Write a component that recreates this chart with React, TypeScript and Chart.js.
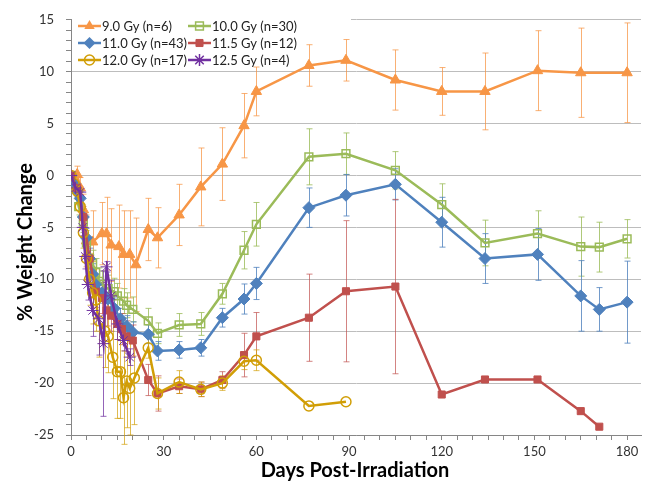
import React, { useEffect, useRef } from 'react';
import { Chart, registerables } from 'chart.js';

Chart.register(...registerables);

const FONT = 'Lato, "Open Sans", sans-serif';

// ---- Data (days post-irradiation, % weight change, error bar half-width) ----
const days90 = [0, 2, 3, 4, 5, 7, 10, 11.5, 13, 15.5, 17, 19, 21, 25, 28, 35, 42, 49, 56, 60, 77, 89, 105, 120, 134, 151, 165, 180];
const vals90 = [0, 0.1, -1.2, -3.3, -6.3, -6.4, -5.6, -5.6, -6.7, -6.85, -7.6, -7.6, -8.6, -5.2, -6.0, -3.8, -1.1, 1.1, 4.8, 8.1, 10.6, 11.1, 9.2, 8.1, 8.1, 10.1, 9.9, 9.9];
const errs90 = [0, 0.8, 1, 1.5, 2.5, 3, 3, 3.5, 3.5, 4, 4.2, 4.2, 4.5, 3, 2.9, 2.95, 3.75, 3.5, 3.1, 2.35, 2, 2, 2.9, 2.3, 3.7, 3.85, 4.3, 4.8];

const days100 = [0, 1, 2.5, 4, 5, 6, 7, 8, 9, 10, 12, 14, 15, 17, 18, 20, 25, 28, 35, 42, 49, 56, 60, 77, 89, 105, 120, 134, 151, 165, 171, 180];
const vals100 = [0, -1.2, -3.0, -4.5, -6.5, -8, -8.5, -9.3, -10.2, -10.5, -10.9, -11.2, -11.6, -12.1, -12.5, -12.9, -14.0, -15.2, -14.4, -14.3, -11.4, -7.2, -4.7, 1.8, 2.1, 0.5, -2.8, -6.5, -5.6, -6.85, -6.9, -6.1];
const errs100 = [0, 0.5, 0.8, 1, 1.2, 1.3, 1.3, 1.3, 1.3, 1.3, 1.3, 1.3, 1.2, 1.2, 1.2, 1.2, 1.2, 1.0, 1.1, 1.1, 1.0, 1.8, 2.1, 2.7, 2, 1.8, 2, 2.2, 2.2, 2.85, 2.4, 1.85];

const days110 = [0, 1, 2, 3, 4, 5, 6, 7, 8, 10, 12, 14, 16, 18, 20, 25, 28, 35, 42, 49, 56, 60, 77, 89, 105, 120, 134, 151, 165, 171, 180];
const vals110 = [0, -0.8, -1.5, -2.2, -4, -6, -8, -9.5, -10.5, -11.3, -11.9, -12.8, -13.8, -14.5, -15.1, -15.3, -16.9, -16.8, -16.6, -13.7, -11.9, -10.4, -3.1, -1.9, -0.85, -4.5, -8.0, -7.6, -11.6, -12.9, -12.2];
const errs110 = [0, 0.3, 0.5, 0.6, 0.8, 0.9, 1, 1, 1, 1, 1, 1, 1, 1, 1, 0.9, 0.9, 0.8, 0.8, 0.9, 1.45, 1.55, 1.9, 2, 1.5, 2.4, 2.4, 2.5, 3.4, 2.1, 3.95];

const days115 = [0, 2, 4, 6, 8, 10, 11.5, 13, 15, 16.5, 18, 20, 25, 28, 35, 42, 49, 56, 60, 77, 89, 105, 120, 134, 151, 165, 171];
const vals115 = [0, -1.2, -4, -8, -11.2, -11.8, -13, -13.5, -14.3, -14.8, -15.5, -15.9, -19.7, -21.0, -20.3, -20.6, -19.7, -17.3, -15.5, -13.7, -11.15, -10.7, -21.1, -19.65, -19.65, -22.7, -24.2];
const errs115 = [0, 0.5, 1, 1.5, 1.5, 1.5, 1.5, 1.5, 1.5, 1.5, 1.5, 1.5, 1.5, 1.7, 0.7, 0.7, 0.8, 2.1, 2.3, 4.2, 6.8, 8.4, 0, 0, 0, 0, 0];

const days120 = [0, 1, 2, 3, 4, 5, 6, 7, 8, 9, 11, 12, 13.5, 15, 16, 17, 18, 19, 20.5, 25, 28, 35, 42, 49, 56, 60, 77, 89];
const vals120 = [0, -0.8, -1.5, -3, -5.5, -8, -10, -11.3, -12, -14, -15, -15.5, -17.5, -18.9, -18.9, -21.4, -19.8, -20.5, -19.5, -16.6, -21.0, -19.9, -20.6, -20.0, -17.9, -17.8, -22.2, -21.8];
const errs120 = [0, 0.5, 0.8, 1, 1.5, 2, 2.5, 3, 3, 3.5, 3.5, 3.5, 4, 4.5, 4.5, 4.5, 4.5, 4.5, 4.5, 1, 1.5, 1.1, 0.7, 0.7, 0.8, 1, 0, 0];

const days125 = [0, 1.5, 3, 3.8, 4.6, 5.4, 7, 9, 10.5, 11.5, 13, 15, 17, 19];
const vals125 = [0, -1.2, -1.6, -5.0, -7.8, -10.5, -13.0, -13.8, -16.2, -8.8, -11.6, -14.3, -15.9, -17.5];
const errs125 = [0, 0.3, 0.5, 0.8, 1.2, 1.5, 2.5, 3.5, 7, 0.5, 1.5, 1.5, 1, 0.8];

const seriesLabels = ['9.0 Gy (n=6)', '10.0 Gy (n=30)', '11.0 Gy (n=43)', '11.5 Gy (n=12)', '12.0 Gy (n=17)', '12.5 Gy (n=4)'];

const xTickValues = Array.from({ length: 37 }, (_, i) => i * 5);
const yTickValues = Array.from({ length: 41 }, (_, i) => -25 + i);

type Style = { color: string; err: string; point: string; radius: number; filled: boolean; order: number };
const styles: Style[] = [
  { color: '#F79646', err: 'rgba(247,150,70,0.75)', point: 'triangle', radius: 6, filled: true, order: 5 },
  { color: '#9BBB59', err: 'rgba(155,187,89,0.8)', point: 'rect', radius: 5.5, filled: false, order: 4 },
  { color: '#4F81BD', err: 'rgba(79,129,189,0.8)', point: 'rectRot', radius: 6, filled: true, order: 3 },
  { color: '#C0504D', err: 'rgba(192,80,77,0.7)', point: 'rect', radius: 5, filled: true, order: 2 },
  { color: '#D19E06', err: 'rgba(209,158,6,0.7)', point: 'circle', radius: 5, filled: false, order: 1 },
  { color: '#7030A0', err: 'rgba(112,48,160,0.75)', point: 'star', radius: 6, filled: true, order: 0 },
];

const allDays = [days90, days100, days110, days115, days120, days125];
const allVals = [vals90, vals100, vals110, vals115, vals120, vals125];
const allErrs = [errs90, errs100, errs110, errs115, errs120, errs125];

function drawMarker(ctx: CanvasRenderingContext2D, st: Style, x: number, y: number) {
  const r = st.radius;
  ctx.save();
  ctx.strokeStyle = st.color;
  ctx.fillStyle = st.color;
  ctx.lineWidth = st.filled ? 1 : 1.5;
  ctx.beginPath();
  if (st.point === 'triangle') {
    ctx.moveTo(x, y - r);
    ctx.lineTo(x + 0.866 * r, y + 0.5 * r);
    ctx.lineTo(x - 0.866 * r, y + 0.5 * r);
    ctx.closePath();
    ctx.fill();
  } else if (st.point === 'rect') {
    const s = r * Math.SQRT1_2;
    ctx.rect(x - s, y - s, 2 * s, 2 * s);
    if (st.filled) ctx.fill();
    ctx.stroke();
  } else if (st.point === 'rectRot') {
    ctx.moveTo(x, y - r);
    ctx.lineTo(x + r, y);
    ctx.lineTo(x, y + r);
    ctx.lineTo(x - r, y);
    ctx.closePath();
    ctx.fill();
  } else if (st.point === 'circle') {
    ctx.arc(x, y, r, 0, Math.PI * 2);
    ctx.stroke();
  } else {
    for (let k = 0; k < 4; k++) {
      const a = (k * Math.PI) / 4;
      ctx.moveTo(x - Math.cos(a) * r, y - Math.sin(a) * r);
      ctx.lineTo(x + Math.cos(a) * r, y + Math.sin(a) * r);
    }
    ctx.lineWidth = 1.5;
    ctx.stroke();
  }
  ctx.restore();
}

const errorBarPlugin = {
  id: 'errorBars',
  beforeDatasetsDraw(chart: any) {
    const ctx: CanvasRenderingContext2D = chart.ctx;
    const xs = chart.scales.x;
    const ys = chart.scales.y;
    // hide top gridline behind the legend block
    ctx.save();
    ctx.fillStyle = '#ffffff';
    ctx.fillRect(chart.chartArea.left + 1, chart.chartArea.top - 2, 350 - chart.chartArea.left, 4);
    ctx.restore();
    chart.data.datasets.forEach((ds: any) => {
      const errs: number[] = ds.errors;
      ctx.save();
      ctx.strokeStyle = ds.errColor;
      ctx.lineWidth = 1;
      ds.data.forEach((p: any, i: number) => {
        const e = errs[i];
        if (!e) return;
        const x = Math.round(xs.getPixelForValue(p.x)) + 0.5;
        const y1 = ys.getPixelForValue(p.y + e);
        const y2 = ys.getPixelForValue(p.y - e);
        ctx.beginPath();
        ctx.moveTo(x, y1);
        ctx.lineTo(x, y2);
        ctx.moveTo(x - 3, y1);
        ctx.lineTo(x + 3, y1);
        ctx.moveTo(x - 3, y2);
        ctx.lineTo(x + 3, y2);
        ctx.stroke();
      });
      ctx.restore();
    });
  },
};

const overlayPlugin = {
  id: 'overlay',
  afterDraw(chart: any) {
    const ctx: CanvasRenderingContext2D = chart.ctx;
    // legend
    const cols = [78, 188];
    const rows = [26, 43, 60];
    ctx.save();
    ctx.font = `13px ${FONT}`;
    ctx.textBaseline = 'middle';
    ctx.textAlign = 'left';
    seriesLabels.forEach((lab, i) => {
      const st = styles[i];
      const x0 = cols[i % 2];
      const y = rows[Math.floor(i / 2)];
      ctx.strokeStyle = st.color;
      ctx.lineWidth = 2.5;
      ctx.beginPath();
      ctx.moveTo(x0, y);
      ctx.lineTo(x0 + 23, y);
      ctx.stroke();
      drawMarker(ctx, st, x0 + 11.5, y);
      ctx.fillStyle = '#222';
      ctx.fillText(lab, x0 + 24, y + 1);
    });
    // axis titles
    ctx.fillStyle = '#000';
    ctx.font = `bold 20px ${FONT}`;
    ctx.textAlign = 'center';
    ctx.fillText('Days Post-Irradiation', 355, 471);
    ctx.translate(26, 242);
    ctx.rotate(-Math.PI / 2);
    ctx.fillText('% Weight Change', 0, 0);
    ctx.restore();
  },
};

export default function App() {
  const ref = useRef<HTMLCanvasElement | null>(null);

  useEffect(() => {
    const canvas = ref.current;
    if (!canvas) return;
    const datasets = seriesLabels.map((label, i) => {
      const st = styles[i];
      return {
        label,
        data: allDays[i].map((d, j) => ({ x: d, y: allVals[i][j] })),
        errors: allErrs[i],
        errColor: st.err,
        borderColor: st.color,
        backgroundColor: st.color,
        borderWidth: 2.5,
        pointStyle: st.point,
        pointRadius: st.radius,
        pointHoverRadius: st.radius,
        pointBorderColor: st.color,
        pointBackgroundColor: st.filled ? st.color : 'rgba(0,0,0,0)',
        pointBorderWidth: st.filled ? 1 : 1.5,
        tension: 0,
        order: st.order,
      };
    });
    const chart = new Chart(canvas, {
      type: 'line',
      data: { datasets } as any,
      options: {
        animation: false,
        responsive: false,
        devicePixelRatio: 1,
        layout: { padding: { top: 17, right: 0, left: 0, bottom: 0 } },
        plugins: { legend: { display: false }, tooltip: { enabled: false } },
        scales: {
          x: {
            type: 'linear',
            min: 0,
            max: 184.5,
            afterFit: (s: any) => { s.height = 48; },
            afterBuildTicks: (s: any) => { s.ticks = xTickValues.map((v) => ({ value: v })); },
            ticks: {
              autoSkip: false,
              maxRotation: 0,
              padding: 4,
              color: '#333',
              font: { family: FONT, size: 13 },
              callback: (v: any) => (Number(v) % 30 === 0 ? String(v) : ''),
            },
            grid: { drawOnChartArea: false, drawTicks: true, tickLength: 5, color: '#868686' },
            border: { color: '#868686', width: 1 },
          },
          y: {
            type: 'linear',
            min: -25,
            max: 15,
            afterFit: (s: any) => { s.width = 71; },
            afterBuildTicks: (s: any) => { s.ticks = yTickValues.map((v) => ({ value: v })); },
            ticks: {
              autoSkip: false,
              padding: 12,
              color: '#333',
              font: { family: FONT, size: 13 },
              callback: (v: any) => (Number(v) % 5 === 0 ? String(v) : ''),
            },
            grid: {
              color: (c: any) => (c.tick && c.tick.value % 5 === 0 ? '#BDBDBD' : 'rgba(0,0,0,0)'),
              tickColor: '#868686',
              tickLength: 5,
              lineWidth: 1,
            },
            border: { color: '#868686', width: 1 },
          },
        },
      } as any,
      plugins: [errorBarPlugin, overlayPlugin],
    });
    return () => chart.destroy();
  }, []);

  return (
    <div style={{ position: 'absolute', left: 0, top: 0, width: 648, height: 483, background: '#fff' }}>
      <canvas ref={ref} width={648} height={483} style={{ display: 'block', width: 648, height: 483 }} />
    </div>
  );
}
